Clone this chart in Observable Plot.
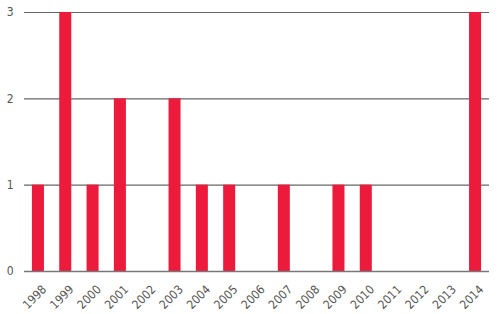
<!DOCTYPE html>
<html>
<head>
<meta charset="utf-8">
<script src="https://cdn.jsdelivr.net/npm/d3@7"></script>
<script src="https://cdn.jsdelivr.net/npm/@observablehq/plot@0.6"></script>
<style>
  html, body { margin: 0; padding: 0; background: #fff; }
  #chart svg { display: block; }
</style>
</head>
<body>
<div id="chart"></div>
<script>
const years = ["1998","1999","2000","2001","2002","2003","2004","2005","2006","2007","2008","2009","2010","2011","2012","2013","2014"];
const counts = [1, 3, 1, 2, 0, 2, 1, 1, 0, 1, 0, 1, 1, 0, 0, 0, 3];
const yTicks = [0, 1, 2, 3];

const data = years.map((y, i) => ({year: y, count: counts[i]}));

const chart = Plot.plot({
  width: 500,
  height: 314,
  marginLeft: 24,
  marginRight: 11,
  marginTop: 12,
  marginBottom: 43,
  style: {fontFamily: "'DejaVu Sans Condensed', 'DejaVu Sans', sans-serif", fontStretch: "condensed", fontSize: "12px", color: "#555"},
  x: {domain: years, paddingInner: 0.56, paddingOuter: 0.29, round: false},
  y: {domain: [0, 3]},
  marks: [
    Plot.gridY(yTicks, {stroke: "#666", strokeOpacity: 1, strokeWidth: 1.2}),
    Plot.barY(data, {x: "year", y: "count", fill: "#ec1b3b"}),
    Plot.ruleY([0], {stroke: "#777", strokeWidth: 1.5}),
    Plot.axisY(yTicks, {label: null, tickSize: 0, tickFormat: d3.format("d"), tickPadding: 11}),
    Plot.axisX(years, {label: null, tickSize: 0, tickRotate: -45, tickPadding: 10, dx: 6, dy: 6})
  ]
});
document.getElementById("chart").appendChild(chart);
</script>
</body>
</html>
